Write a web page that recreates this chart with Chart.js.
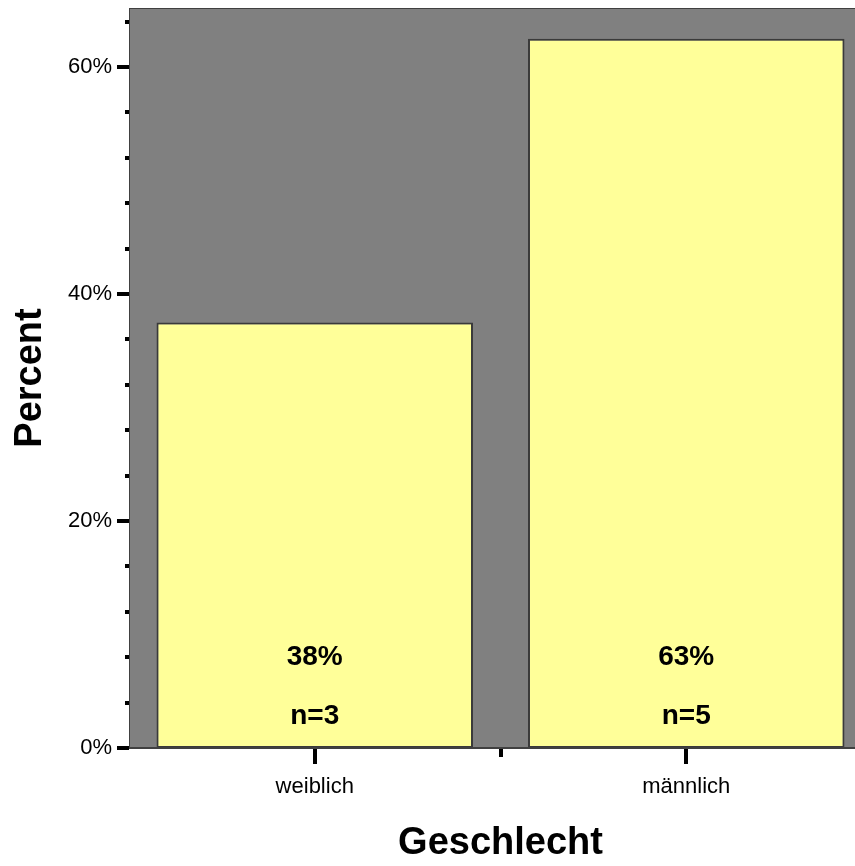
<!DOCTYPE html>
<html>
<head>
<meta charset="utf-8">
<script src="https://cdn.jsdelivr.net/npm/chart.js@4.4.0/dist/chart.umd.min.js"></script>
<style>
  html, body { margin: 0; padding: 0; background: #fff; overflow: hidden; }
  #wrap { width: 880px; height: 866px; }
</style>
</head>
<body>
<div id="wrap"><canvas id="chart" width="880" height="866"></canvas></div>
<script>
const categories = ['weiblich', 'männlich'];
const percentValues = [37.5, 62.5];
const counts = [3, 5];
const yMax = 65.2;
const minorStep = 4;

const FONT = 'Arial, "Liberation Sans", sans-serif';

// grey plot background, frame, tick marks and the labels inside the bars
const framePlugin = {
  id: 'frame',
  beforeDatasetsDraw(chart) {
    const { ctx, chartArea: a } = chart;
    ctx.save();
    ctx.fillStyle = '#808080';
    ctx.fillRect(a.left, a.top, a.right - a.left, a.bottom - a.top);
    ctx.restore();
  },
  afterDatasetsDraw(chart) {
    const { ctx, chartArea: a } = chart;
    const y = chart.scales.y;
    const x = chart.scales.x;
    ctx.save();
    ctx.strokeStyle = '#404040';
    ctx.lineWidth = 1;
    ctx.strokeRect(a.left + 0.5, a.top + 0.5, a.right - a.left - 1, a.bottom - a.top);
    ctx.fillStyle = '#404040';
    ctx.fillRect(a.left, a.bottom - 1, a.right - a.left, 2);

    // y ticks
    ctx.fillStyle = '#000';
    for (let v = 0; v <= yMax; v += minorStep) {
      const py = Math.round(y.getPixelForValue(v));
      const major = v % 20 === 0;
      const len = major ? 12 : 4;
      ctx.fillRect(a.left - len, py - 2, len, 4);
    }
    // x ticks: long at category centres, short between them
    for (let i = 0; i < categories.length; i++) {
      const px = Math.round(x.getPixelForValue(i));
      ctx.fillRect(px - 2, a.bottom + 1, 4, 15);
      if (i > 0) {
        const mid = Math.round((x.getPixelForValue(i - 1) + x.getPixelForValue(i)) / 2);
        ctx.fillRect(mid - 2, a.bottom + 1, 4, 8);
      }
    }

    // labels inside the bars
    const bars = chart.getDatasetMeta(0).data;
    ctx.font = 'bold 28px ' + FONT;
    ctx.textAlign = 'center';
    ctx.textBaseline = 'middle';
    bars.forEach((bar, i) => {
      ctx.fillText(Math.round(percentValues[i]) + '%', bar.x, bar.base - 91);
      ctx.fillText('n=' + counts[i], bar.x, bar.base - 32);
    });
    ctx.restore();
  }
};

new Chart(document.getElementById('chart'), {
  type: 'bar',
  data: {
    labels: categories,
    datasets: [{
      data: percentValues,
      backgroundColor: '#FFFF99',
      borderColor: '#3a3a3a',
      borderWidth: 2,
      borderSkipped: false,
      barPercentage: 0.852,
      categoryPercentage: 1
    }]
  },
  options: {
    responsive: false,
    animation: false,
    devicePixelRatio: 1,
    layout: { padding: { top: 8, right: 8, left: 0, bottom: 0 } },
    plugins: { legend: { display: false }, tooltip: { enabled: false } },
    scales: {
      x: {
        grid: { display: false, drawTicks: false },
        border: { display: false },
        ticks: { color: '#000', font: { family: FONT, size: 22 }, padding: 26, maxRotation: 0 },
        title: {
          display: true, text: 'Geschlecht', color: '#000',
          font: { family: FONT, size: 38, weight: 'bold' }, padding: { bottom: 0 }
        },
        afterFit(scale) { scale.height = 118; scale.paddingLeft = 0; scale.paddingRight = 0; }
      },
      y: {
        min: 0,
        max: yMax,
        grid: { display: false, drawTicks: false },
        border: { display: false },
        ticks: {
          stepSize: 20,
          includeBounds: false,
          color: '#000',
          font: { family: FONT, size: 22 },
          padding: 17,
          callback: v => (v % 20 === 0 ? v + '%' : '')
        },
        title: {
          display: true, text: 'Percent', color: '#000',
          font: { family: FONT, size: 38, weight: 'bold' }, padding: { top: 8 }
        },
        afterFit(scale) { scale.width = 129; scale.paddingTop = 0; scale.paddingBottom = 0; }
      }
    }
  },
  plugins: [framePlugin]
});
</script>
</body>
</html>
